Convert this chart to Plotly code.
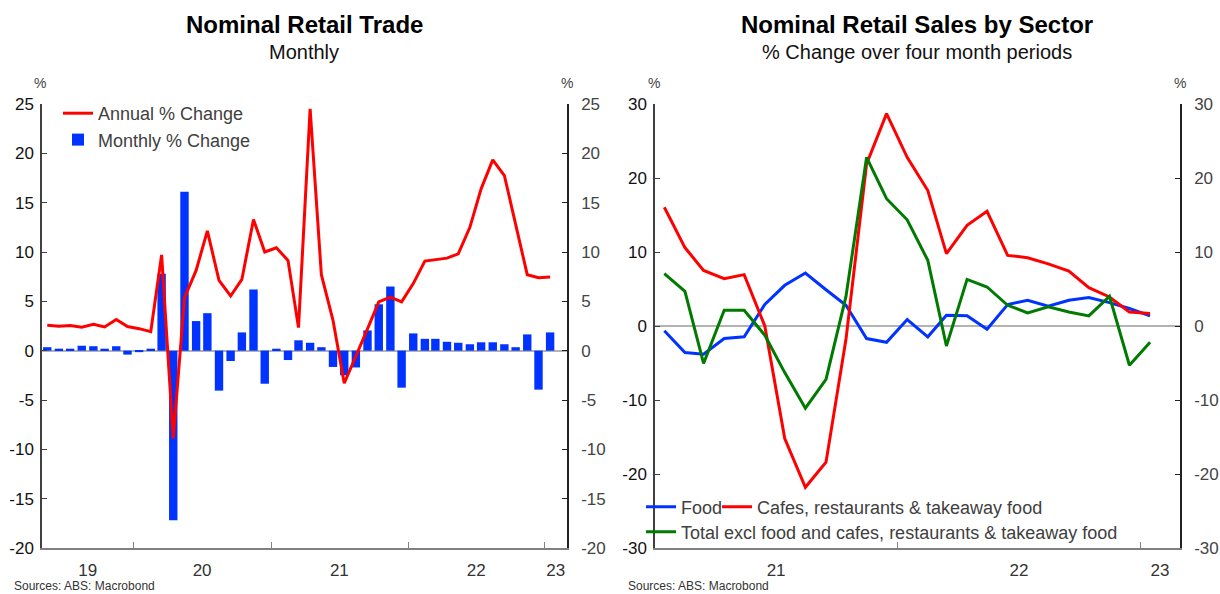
import plotly.graph_objects as go
import pandas as pd

# ---------------- data ----------------
# Left chart: monthly, May 2019 .. Jan 2023
left_months = (pd.date_range("2019-05-01", periods=45, freq="MS") + pd.Timedelta(days=14)).strftime("%Y-%m-%d").tolist()
monthly_pct = [0.35, 0.2, 0.2, 0.5, 0.45, 0.2, 0.45, -0.4,
               -0.15, 0.2, 7.8, -17.2, 16.1, 3.0, 3.8, -4.05, -1.05, 1.85, 6.2, -3.35,
               0.2, -0.95, 1.05, 0.8, 0.35, -1.65, -2.5, -1.7, 2.05, 4.7, 6.5, -3.75,
               1.75, 1.2, 1.2, 0.9, 0.8, 0.65, 0.85, 0.85, 0.65, 0.35, 1.65, -3.95,
               1.85]
annual_pct = [2.57, 2.48, 2.55, 2.37, 2.67, 2.4, 3.15, 2.45,
              2.23, 1.93, 9.7, -8.9, 5.37, 8.13, 12.15, 7.12, 5.54, 7.22, 13.3, 10.0,
              10.43, 9.15, 2.34, 24.5, 7.7, 3.08, -3.3, -0.6, 2.2, 4.95, 5.43, 4.95,
              6.8, 9.08, 9.25, 9.38, 9.82, 12.5, 16.4, 19.34, 17.75, 12.86, 7.7, 7.4,
              7.46]

# Right chart: Jan 2021 .. Jan 2023
right_months = (pd.date_range("2021-01-01", periods=25, freq="MS") + pd.Timedelta(days=14)).strftime("%Y-%m-%d").tolist()
food = [-0.65, -3.58, -3.8, -1.7, -1.46, 2.9, 5.5, 7.16, 4.9, 2.8, -1.7, -2.2,
        0.87, -1.46, 1.46, 1.4, -0.43, 2.9, 3.48, 2.67, 3.48, 3.84, 3.16, 2.36, 1.36]
cafes = [16.05, 10.6, 7.5, 6.4, 6.94, 0.0, -15.2, -21.8, -18.4, -1.8, 21.9, 28.7,
         22.8, 18.3, 9.77, 13.6, 15.5, 9.54, 9.23, 8.4, 7.43, 5.18, 3.92, 1.9, 1.68]
total_excl = [7.07, 4.69, -5.06, 2.13, 2.13, -1.24, -6.3, -11.1, -7.2, 4.0, 22.8, 17.2,
              14.35, 8.87, -2.7, 6.3, 5.27, 2.8, 1.77, 2.58, 1.9, 1.36, 4.0, -5.3, -2.2]

left_xrange = ["2019-05-01", "2023-03-01"]
left_year_ticks = ["2020-01-01", "2021-01-01", "2022-01-01", "2023-01-01"]
left_label_pos = ["2019-08-31", "2020-07-01", "2021-07-02", "2022-07-02", "2023-01-30"]
left_labels = ["19", "20", "21", "22", "23"]
left_yticks = [-20, -15, -10, -5, 0, 5, 10, 15, 20, 25]
left_ylabels = ["-20", "-15", "-10", "-5", "0", "5", "10", "15", "20", "25"]

right_xrange = ["2021-01-01", "2023-03-01"]
right_year_ticks = ["2022-01-01", "2023-01-01"]
right_label_pos = ["2021-07-02", "2022-07-02", "2023-01-30"]
right_labels = ["21", "22", "23"]
right_yticks = [-30, -20, -10, 0, 10, 20, 30]
right_ylabels = ["-30", "-20", "-10", "0", "10", "20", "30"]

# ---------------- styling ----------------
W, H = 1220, 594
FONT = "Liberation Sans, Arial, sans-serif"
BLUE = "#0033FF"
RED = "#FF0000"
GREEN = "#007A00"


def fx(p):
    return p / W


def fy(p):
    return 1 - p / H


fig = go.Figure()

# Left chart
fig.add_trace(go.Bar(x=left_months, y=monthly_pct, name="Monthly % Change",
                     marker=dict(color=BLUE, line=dict(width=0)),
                     xaxis="x", yaxis="y", legend="legend", legendrank=2))
fig.add_trace(go.Scatter(x=left_months, y=annual_pct, name="Annual % Change", mode="lines",
                         line=dict(color=RED, width=3),
                         xaxis="x", yaxis="y3", legend="legend", legendrank=1))

# Right chart
fig.add_trace(go.Scatter(x=right_months, y=food, name="Food", mode="lines",
                         line=dict(color=BLUE, width=3), xaxis="x2", yaxis="y2", legend="legend2"))
fig.add_trace(go.Scatter(x=right_months, y=cafes, name="Cafes, restaurants & takeaway food", mode="lines",
                         line=dict(color=RED, width=3), xaxis="x2", yaxis="y2", legend="legend4"))
fig.add_trace(go.Scatter(x=right_months, y=total_excl,
                         name="Total excl food and cafes, restaurants & takeaway food", mode="lines",
                         line=dict(color=GREEN, width=3), xaxis="x2", yaxis="y4", legend="legend3"))

left_dom_x = [fx(42), fx(567)]
right_dom_x = [fx(655), fx(1180)]
dom_y = [fy(548), fy(104)]

xcommon = dict(type="date", showgrid=False, zeroline=False, showline=True, linecolor="#808080",
               linewidth=2, ticks="", tickfont=dict(size=17, color="#333333", family=FONT),
               ticklabelstandoff=6, automargin=False, fixedrange=True)
ycommon = dict(showgrid=False, showline=True, linewidth=1.5, ticks="inside", ticklen=5,
               tickwidth=1, automargin=False, fixedrange=True, tickmode="array")

legfont = dict(size=18, color="#404040", family=FONT)

fig.update_layout(
    width=W, height=H,
    margin=dict(l=0, r=0, t=0, b=0),
    paper_bgcolor="white", plot_bgcolor="white",
    font=dict(family=FONT, color="#333333"),
    bargap=0.2,
    showlegend=True,
    xaxis=dict(domain=left_dom_x, anchor="y", range=left_xrange,
               tickmode="array", tickvals=left_label_pos, ticktext=left_labels,
               minor=dict(tickmode="array", tickvals=left_year_ticks, ticks="inside",
                          ticklen=6, tickcolor="#808080", tickwidth=1, showgrid=False),
               **xcommon),
    yaxis=dict(domain=dom_y, anchor="x", range=[-20, 25],
               tickvals=left_yticks, ticktext=left_ylabels,
               linecolor="#404040", tickcolor="#404040", ticklabelstandoff=3,
               tickfont=dict(size=17, color="#111111", family=FONT),
               zeroline=True, zerolinecolor="#B3B3B3", zerolinewidth=2, **ycommon),
    yaxis3=dict(overlaying="y", anchor="x", side="right", range=[-20, 25],
                tickvals=left_yticks, ticktext=left_ylabels,
                linecolor="#222222", tickcolor="#222222", ticklabelstandoff=9,
                tickfont=dict(size=17, color="#444444", family=FONT),
                zeroline=False, **ycommon),
    xaxis2=dict(domain=right_dom_x, anchor="y2", range=right_xrange,
                tickmode="array", tickvals=right_label_pos, ticktext=right_labels,
                minor=dict(tickmode="array", tickvals=right_year_ticks, ticks="inside",
                           ticklen=6, tickcolor="#808080", tickwidth=1, showgrid=False),
                **xcommon),
    yaxis2=dict(domain=dom_y, anchor="x2", range=[-30, 30],
                tickvals=right_yticks, ticktext=right_ylabels,
                linecolor="#404040", tickcolor="#404040", ticklabelstandoff=3,
                tickfont=dict(size=17, color="#111111", family=FONT),
                zeroline=True, zerolinecolor="#B3B3B3", zerolinewidth=2, **ycommon),
    yaxis4=dict(overlaying="y2", anchor="x2", side="right", range=[-30, 30],
                tickvals=right_yticks, ticktext=right_ylabels,
                linecolor="#222222", tickcolor="#222222", ticklabelstandoff=9,
                tickfont=dict(size=17, color="#444444", family=FONT),
                zeroline=False, **ycommon),
    legend=dict(x=fx(58), y=fy(95), xanchor="left", yanchor="top", orientation="v",
                bgcolor="rgba(0,0,0,0)", font=legfont, itemwidth=30, tracegroupgap=0),
    legend2=dict(x=fx(641), y=fy(507), xanchor="left", yanchor="middle", orientation="h",
                 bgcolor="rgba(0,0,0,0)", font=legfont, itemwidth=30),
    legend4=dict(x=fx(717), y=fy(507), xanchor="left", yanchor="middle", orientation="h",
                 bgcolor="rgba(0,0,0,0)", font=legfont, itemwidth=30),
    legend3=dict(x=fx(641), y=fy(532), xanchor="left", yanchor="middle", orientation="h",
                 bgcolor="rgba(0,0,0,0)", font=legfont, itemwidth=30),
)

annotations = [
    dict(text="<b>Nominal Retail Trade</b>", x=fx(304), y=fy(24), font=dict(size=24, color="#000000")),
    dict(text="Monthly", x=fx(304), y=fy(52), font=dict(size=20, color="#111111")),
    dict(text="<b>Nominal Retail Sales by Sector</b>", x=fx(917), y=fy(24), font=dict(size=24, color="#000000")),
    dict(text="% Change over four month periods", x=fx(917), y=fy(52), font=dict(size=20, color="#111111")),
    dict(text="%", x=fx(40), y=fy(83), font=dict(size=14, color="#444444")),
    dict(text="%", x=fx(567), y=fy(83), font=dict(size=14, color="#444444")),
    dict(text="%", x=fx(654), y=fy(83), font=dict(size=14, color="#444444")),
    dict(text="%", x=fx(1180), y=fy(83), font=dict(size=14, color="#444444")),
    dict(text="Sources: ABS: Macrobond", x=fx(12), y=fy(586), xanchor="left",
         font=dict(size=12, color="#333333")),
    dict(text="Sources: ABS: Macrobond", x=fx(626), y=fy(586), xanchor="left",
         font=dict(size=12, color="#333333")),
]
for a in annotations:
    a.setdefault("xanchor", "center")
    a.update(xref="paper", yref="paper", yanchor="middle", showarrow=False)
    a["font"]["family"] = FONT
fig.update_layout(annotations=annotations)

fig.write_html("out.html")
